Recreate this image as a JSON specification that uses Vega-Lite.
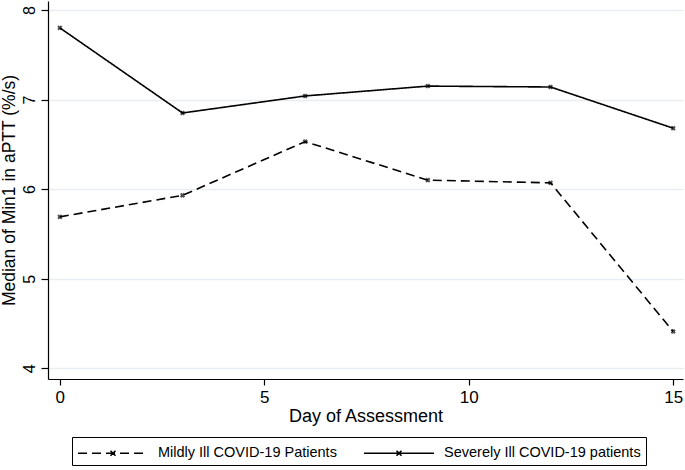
{
  "$schema": "https://vega.github.io/schema/vega-lite/v6.json",
  "width": 635,
  "height": 378,
  "autosize": "none",
  "padding": {"left": 48, "top": 1, "right": 2, "bottom": 91},
  "background": "white",
  "config": {
    "font": "Liberation Sans",
    "view": {"stroke": null},
    "axis": {"labelFont": "Liberation Sans", "titleFont": "Liberation Sans", "titleFontWeight": "normal", "labelColor": "black", "titleColor": "black", "domainColor": "black", "tickColor": "black", "domainWidth": 1.2, "tickWidth": 1.2}
  },
  "data": {
    "values": [
      {"day": 0, "value": 5.69, "group": "Mildly Ill COVID-19 Patients"},
      {"day": 3, "value": 5.93, "group": "Mildly Ill COVID-19 Patients"},
      {"day": 6, "value": 6.53, "group": "Mildly Ill COVID-19 Patients"},
      {"day": 9, "value": 6.10, "group": "Mildly Ill COVID-19 Patients"},
      {"day": 12, "value": 6.07, "group": "Mildly Ill COVID-19 Patients"},
      {"day": 15, "value": 4.41, "group": "Mildly Ill COVID-19 Patients"},
      {"day": 0, "value": 7.80, "group": "Severely Ill COVID-19 patients"},
      {"day": 3, "value": 6.85, "group": "Severely Ill COVID-19 patients"},
      {"day": 6, "value": 7.04, "group": "Severely Ill COVID-19 patients"},
      {"day": 9, "value": 7.15, "group": "Severely Ill COVID-19 patients"},
      {"day": 12, "value": 7.14, "group": "Severely Ill COVID-19 patients"},
      {"day": 15, "value": 6.68, "group": "Severely Ill COVID-19 patients"}
    ]
  },
  "encoding": {
    "x": {
      "field": "day", "type": "quantitative",
      "scale": {"domain": [-0.29, 15.24], "nice": false, "zero": false},
      "axis": {"values": [0, 5, 10, 15], "grid": false, "title": "Day of Assessment", "titleFontSize": 18, "labelFontSize": 17, "labelPadding": 4, "tickSize": 6, "titlePadding": 2, "labelFlush": false}
    },
    "y": {
      "field": "value", "type": "quantitative",
      "scale": {"domain": [3.88, 8.1], "nice": false, "zero": false},
      "axis": {"values": [4, 5, 6, 7, 8], "grid": true, "gridColor": "#e6eef3", "gridWidth": 1.5, "title": "Median of Min1 in aPTT (%/s)", "titleFontSize": 17.5, "labelFontSize": 16, "labelAngle": -90, "labelAlign": "center", "labelBaseline": "bottom", "labelPadding": 4, "tickSize": 7, "titlePadding": 3, "labelFlush": false}
    }
  },
  "layer": [
    {
      "mark": {"type": "line", "color": "black", "strokeWidth": 1.6},
      "encoding": {
        "strokeDash": {
          "field": "group", "type": "nominal",
          "scale": {"domain": ["Mildly Ill COVID-19 Patients", "Severely Ill COVID-19 patients"], "range": [[9, 5], [1, 0]]},
          "legend": {
            "title": null, "orient": "none", "direction": "horizontal",
            "legendX": 24, "legendY": 436,
            "strokeColor": "black", "padding": 5,
            "symbolType": "M-3.5,0H3.5M-0.25,-0.25L0.25,0.25M-0.25,0.25L0.25,-0.25",
            "symbolSize": 400, "symbolStrokeWidth": 1.6, "symbolStrokeColor": "black", "symbolFillColor": "transparent",
            "symbolOffset": 25, "labelOffset": 34, "labelLimit": 400,
            "labelFontSize": 14.5, "labelFont": "Liberation Sans", "labelColor": "black",
            "columnPadding": 23
          }
        }
      }
    },
    {
      "mark": {"type": "point", "shape": "cross", "angle": 45, "color": "black", "filled": true, "size": 26},
      "encoding": {"detail": {"field": "group"}}
    }
  ]
}
